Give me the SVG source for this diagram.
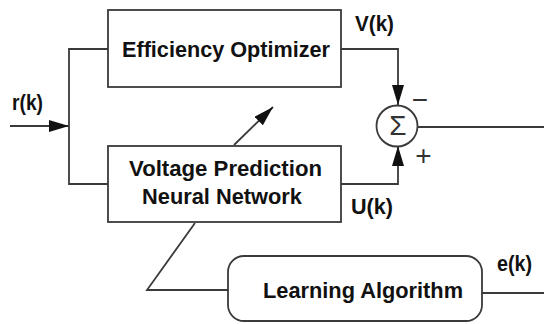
<svg xmlns="http://www.w3.org/2000/svg" width="544" height="324" viewBox="0 0 544 324">
<style>
.box{fill:#fff;stroke:#3a3a3a;stroke-width:1.8}
.ln{fill:none;stroke:#3a3a3a;stroke-width:1.8}
.t{font-family:"Liberation Sans",Arial,sans-serif;font-weight:bold;font-size:22px;fill:#111}
.s{font-family:"Liberation Sans",Arial,sans-serif;font-size:28px;fill:#333}
</style>
<defs>
<marker id="ah" markerUnits="userSpaceOnUse" markerWidth="20" markerHeight="12" refX="20" refY="6" orient="auto">
<path d="M0,0 L20,6 L0,12 z" fill="#111"/>
</marker>
</defs>
<rect width="544" height="324" fill="#fff"/>
<g id="connectors">
<line class="ln" x1="10" y1="126" x2="69" y2="126" marker-end="url(#ah)"/>
<polyline class="ln" points="108,49 69,49 69,184 108,184"/>
<polyline class="ln" points="341,49 398,49 398,105" marker-end="url(#ah)"/>
<polyline class="ln" points="341,184 398,184 398,146" marker-end="url(#ah)"/>
<line class="ln" x1="418" y1="127" x2="544" y2="127"/>
<line class="ln" x1="234" y1="145" x2="273" y2="107" marker-end="url(#ah)"/>
<polyline class="ln" points="228,290 147,290 195,223"/>
<line class="ln" x1="482" y1="293" x2="544" y2="293"/>
<text class="t" x="12" y="110" textLength="31" lengthAdjust="spacingAndGlyphs">r(k)</text>
<text class="t" x="355" y="31" textLength="39" lengthAdjust="spacingAndGlyphs">V(k)</text>
<text class="t" x="351" y="214" textLength="42" lengthAdjust="spacingAndGlyphs">U(k)</text>
<text class="t" x="497" y="271" textLength="35" lengthAdjust="spacingAndGlyphs">e(k)</text>
<text class="s" x="420" y="109" text-anchor="middle">−</text>
<text class="s" x="423.5" y="165" text-anchor="middle">+</text>
</g>
<g id="efficiency-optimizer">
<rect class="box" x="108" y="10" width="233" height="77"/>
<text class="t" x="122" y="56.5" textLength="208" lengthAdjust="spacingAndGlyphs">Efficiency Optimizer</text>
</g>
<g id="voltage-prediction-nn">
<rect class="box" x="108" y="146" width="233" height="76"/>
<text class="t" x="129" y="175.5" textLength="193" lengthAdjust="spacingAndGlyphs">Voltage Prediction</text>
<text class="t" x="142" y="203.5" textLength="160" lengthAdjust="spacingAndGlyphs">Neural Network</text>
</g>
<g id="sum">
<circle class="box" cx="397" cy="126" r="20.5"/>
<text class="s" x="398" y="135" text-anchor="middle" font-size="25">Σ</text>
</g>
<g id="learning-algorithm">
<rect class="box" x="228" y="256" width="254" height="65" rx="16"/>
<text class="t" x="263" y="297.5" textLength="200" lengthAdjust="spacingAndGlyphs">Learning Algorithm</text>
</g>
</svg>
